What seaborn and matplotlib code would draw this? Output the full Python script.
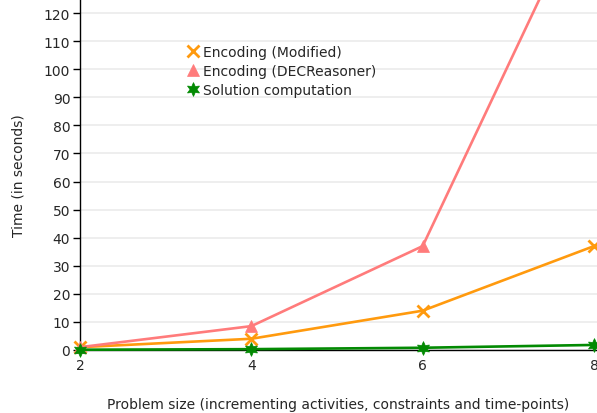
import pandas as pd
import matplotlib
matplotlib.use('Agg')
import matplotlib.pyplot as plt
import seaborn as sns
from matplotlib.lines import Line2D

# data
problem_size = [2, 4, 6, 8]
enc_modified = [1.0, 4.0, 14.0, 37.0]
enc_decreasoner = [1.0, 8.5, 37.0, 166.0]
solution_comp = [0.1, 0.3, 0.8, 1.8]
series_names = ['Encoding (Modified)', 'Encoding (DECReasoner)', 'Solution computation']

colors = ['#FF9A0E', '#FF7B7B', '#038A03']
markers = ['x', '^', (6, 1, 0)]
sizes = [8, 9, 10]

df = pd.DataFrame({
    'size': problem_size * 3,
    'time': enc_modified + enc_decreasoner + solution_comp,
    'series': [n for n in series_names for _ in problem_size],
})

sns.set_style('white')
plt.rcParams['font.family'] = ['DejaVu Sans']

fig = plt.figure(figsize=(5.97, 4.14), dpi=100)
ax = fig.add_axes([80 / 597, 63 / 414, 517 / 597, 351 / 414])

for name, c, m, s in zip(series_names, colors, markers, sizes):
    sub = df[df['series'] == name]
    sns.lineplot(data=sub, x='size', y='time', ax=ax, color=c, marker=m,
                 markersize=s, markeredgewidth=2 if m == 'x' else 0.5,
                 markeredgecolor=c, linewidth=1.9, clip_on=False, zorder=3)

ax.set_xlim(2, 8.035)
ax.set_ylim(0, 125)
ax.set_yticks(range(0, 121, 10))
ax.set_xticks(problem_size)
ax.yaxis.grid(True, color='#EBEBEB', linewidth=1.2)
ax.set_axisbelow(True)
for sp in ['top', 'right']:
    ax.spines[sp].set_visible(False)
ax.spines['left'].set_color('black')
ax.spines['bottom'].set_color('black')
ax.spines['left'].set_linewidth(1)
ax.spines['bottom'].set_linewidth(1)
ax.tick_params(axis='y', length=5, width=1, color='black', labelsize=10, pad=2, left=True)
ax.tick_params(axis='x', length=0, labelsize=10, pad=6)

ax.set_xlabel('Problem size (incrementing activities, constraints and time-points)', fontsize=10, labelpad=18)
ax.set_ylabel('Time (in seconds)', fontsize=10, labelpad=13)

handles = [Line2D([], [], linestyle='none', color=c, marker=m, markersize=s,
                  markeredgewidth=2 if m == 'x' else 0.5, markeredgecolor=c)
           for c, m, s in zip(colors, markers, sizes)]
fig.legend(handles, series_names, loc='upper left', bbox_to_anchor=(0.293, 0.919),
           frameon=False, fontsize=10, handlelength=0.8, handletextpad=0.3,
           labelspacing=0.35)

fig.savefig('out.png', dpi=100)
